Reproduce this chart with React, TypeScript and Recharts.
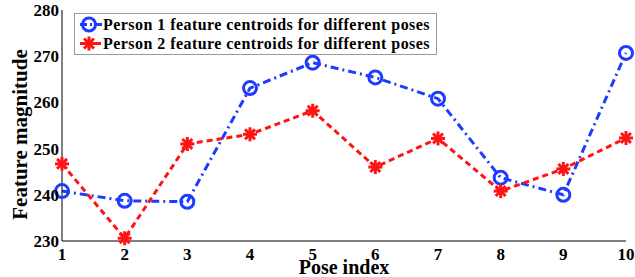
import { LineChart, Line, XAxis, YAxis } from "recharts";

document.body.style.margin = "0";

const poses = [1, 2, 3, 4, 5, 6, 7, 8, 9, 10];
const person1 = [240.8, 238.7, 238.5, 263.1, 268.6, 265.4, 260.8, 243.7, 240.0, 270.7];
const person2 = [246.7, 230.6, 251.0, 253.1, 258.2, 246.0, 252.2, 240.8, 245.6, 252.3];
const yTicks = [230, 240, 250, 260, 270, 280];
const legendLabels = [
  "Person 1 feature centroids for different poses",
  "Person 2 feature centroids for different poses",
];

const BLUE = "#1e3cff";
const RED = "#ff1414";
const FONT = "Liberation Serif";

const data = poses.map((p, i) => ({ pose: p, p1: person1[i], p2: person2[i] }));

const Circle = (props: any) => {
  const { cx, cy } = props;
  if (cx == null || cy == null) return null;
  return <circle cx={cx} cy={cy} r={6.5} fill="none" stroke={BLUE} strokeWidth={3} />;
};

const Star = (props: any) => {
  const { cx, cy } = props;
  if (cx == null || cy == null) return null;
  const r = 7;
  return (
    <g>
      {[0, 45, 90, 135].map((a) => {
        const rad = (a * Math.PI) / 180;
        return (
          <line
            key={a}
            x1={cx - r * Math.cos(rad)}
            y1={cy - r * Math.sin(rad)}
            x2={cx + r * Math.cos(rad)}
            y2={cy + r * Math.sin(rad)}
            stroke={RED}
            strokeWidth={3}
          />
        );
      })}
    </g>
  );
};

const LegendBox = () => (
  <div
    style={{
      position: "absolute",
      left: 74,
      top: 13,
      border: "1px solid #9a9a9a",
      background: "#fff",
      padding: "1px 6px 1px 5px",
      fontFamily: FONT,
      fontWeight: "bold",
      fontSize: 16,
      letterSpacing: "0.45px",
      lineHeight: "19px",
      color: "#000",
      whiteSpace: "nowrap",
    }}
  >
    {legendLabels.map((label, i) => (
      <div key={label} style={{ display: "flex", alignItems: "center" }}>
        <svg width={22} height={19}>
          <line
            x1={0}
            y1={9.5}
            x2={22}
            y2={9.5}
            stroke={i === 0 ? BLUE : RED}
            strokeWidth={3}
            strokeDasharray={i === 0 ? "7 3 2 3" : "5 3"}
          />
          {i === 0 ? <Circle cx={9} cy={9.5} /> : <Star cx={9} cy={9.5} />}
        </svg>
        <span style={{ marginLeft: 1 }}>{label}</span>
      </div>
    ))}
  </div>
);

const YLabel = (props: any) => {
  const vb = props.viewBox || { y: 10, height: 231 };
  const cy = vb.y + vb.height / 2 + 9;
  return (
    <text
      x={20}
      y={cy}
      transform={`rotate(-90, 20, ${cy})`}
      textAnchor="middle"
      dominantBaseline="central"
      fill="#000"
      fontFamily={FONT}
      fontWeight="bold"
      fontSize={21}
    >
      Feature magnitude
    </text>
  );
};

const blank = () => "";

export default function App() {
  return (
    <div style={{ position: "relative", width: 635, height: 277 }}>
      <LineChart width={635} height={277} data={data} margin={{ top: 10, right: 9, bottom: 0, left: 0 }}>
        <XAxis
          dataKey="pose"
          type="number"
          domain={[1, 10]}
          ticks={poses}
          tickLine={false}
          tickSize={0}
          axisLine={{ stroke: "#000" }}
          tick={{ fill: "#000", fontFamily: FONT, fontWeight: "bold", fontSize: 17 }}
          tickMargin={7}
          height={36}
          label={{
            value: "Pose index",
            position: "insideBottom",
            offset: 3,
            fill: "#000",
            fontFamily: FONT,
            fontWeight: "bold",
            fontSize: 20,
          }}
        />
        <XAxis xAxisId="bin" dataKey="pose" type="number" domain={[1, 10]} ticks={poses} orientation="bottom" mirror tickSize={5} tickFormatter={blank} axisLine={false} tickLine={{ stroke: "#000" }} height={0} />
        <XAxis xAxisId="top" dataKey="pose" type="number" domain={[1, 10]} ticks={poses} orientation="top" mirror tickSize={5} tickFormatter={blank} axisLine={{ stroke: "#000" }} tickLine={{ stroke: "#000" }} height={0} />
        <YAxis
          domain={[230, 280]}
          ticks={yTicks}
          tickLine={false}
          tickSize={0}
          axisLine={{ stroke: "#000" }}
          tick={{ fill: "#000", fontFamily: FONT, fontWeight: "bold", fontSize: 17 }}
          tickMargin={3}
          width={62}
          label={<YLabel />}
        />
        <YAxis yAxisId="lin" domain={[230, 280]} ticks={yTicks} orientation="left" mirror tickSize={5} tickFormatter={blank} axisLine={false} tickLine={{ stroke: "#000" }} width={0} />
        <YAxis yAxisId="right" domain={[230, 280]} ticks={yTicks} orientation="right" mirror tickSize={5} tickFormatter={blank} axisLine={{ stroke: "#000" }} tickLine={{ stroke: "#000" }} width={0} />
        <Line
          dataKey="p1"
          stroke={BLUE}
          strokeWidth={3}
          strokeDasharray="8 4 2 4"
          dot={<Circle />}
          activeDot={false}
          isAnimationActive={false}
        />
        <Line
          dataKey="p2"
          stroke={RED}
          strokeWidth={3}
          strokeDasharray="6 4"
          dot={<Star />}
          activeDot={false}
          isAnimationActive={false}
        />
      </LineChart>
      <LegendBox />
    </div>
  );
}
